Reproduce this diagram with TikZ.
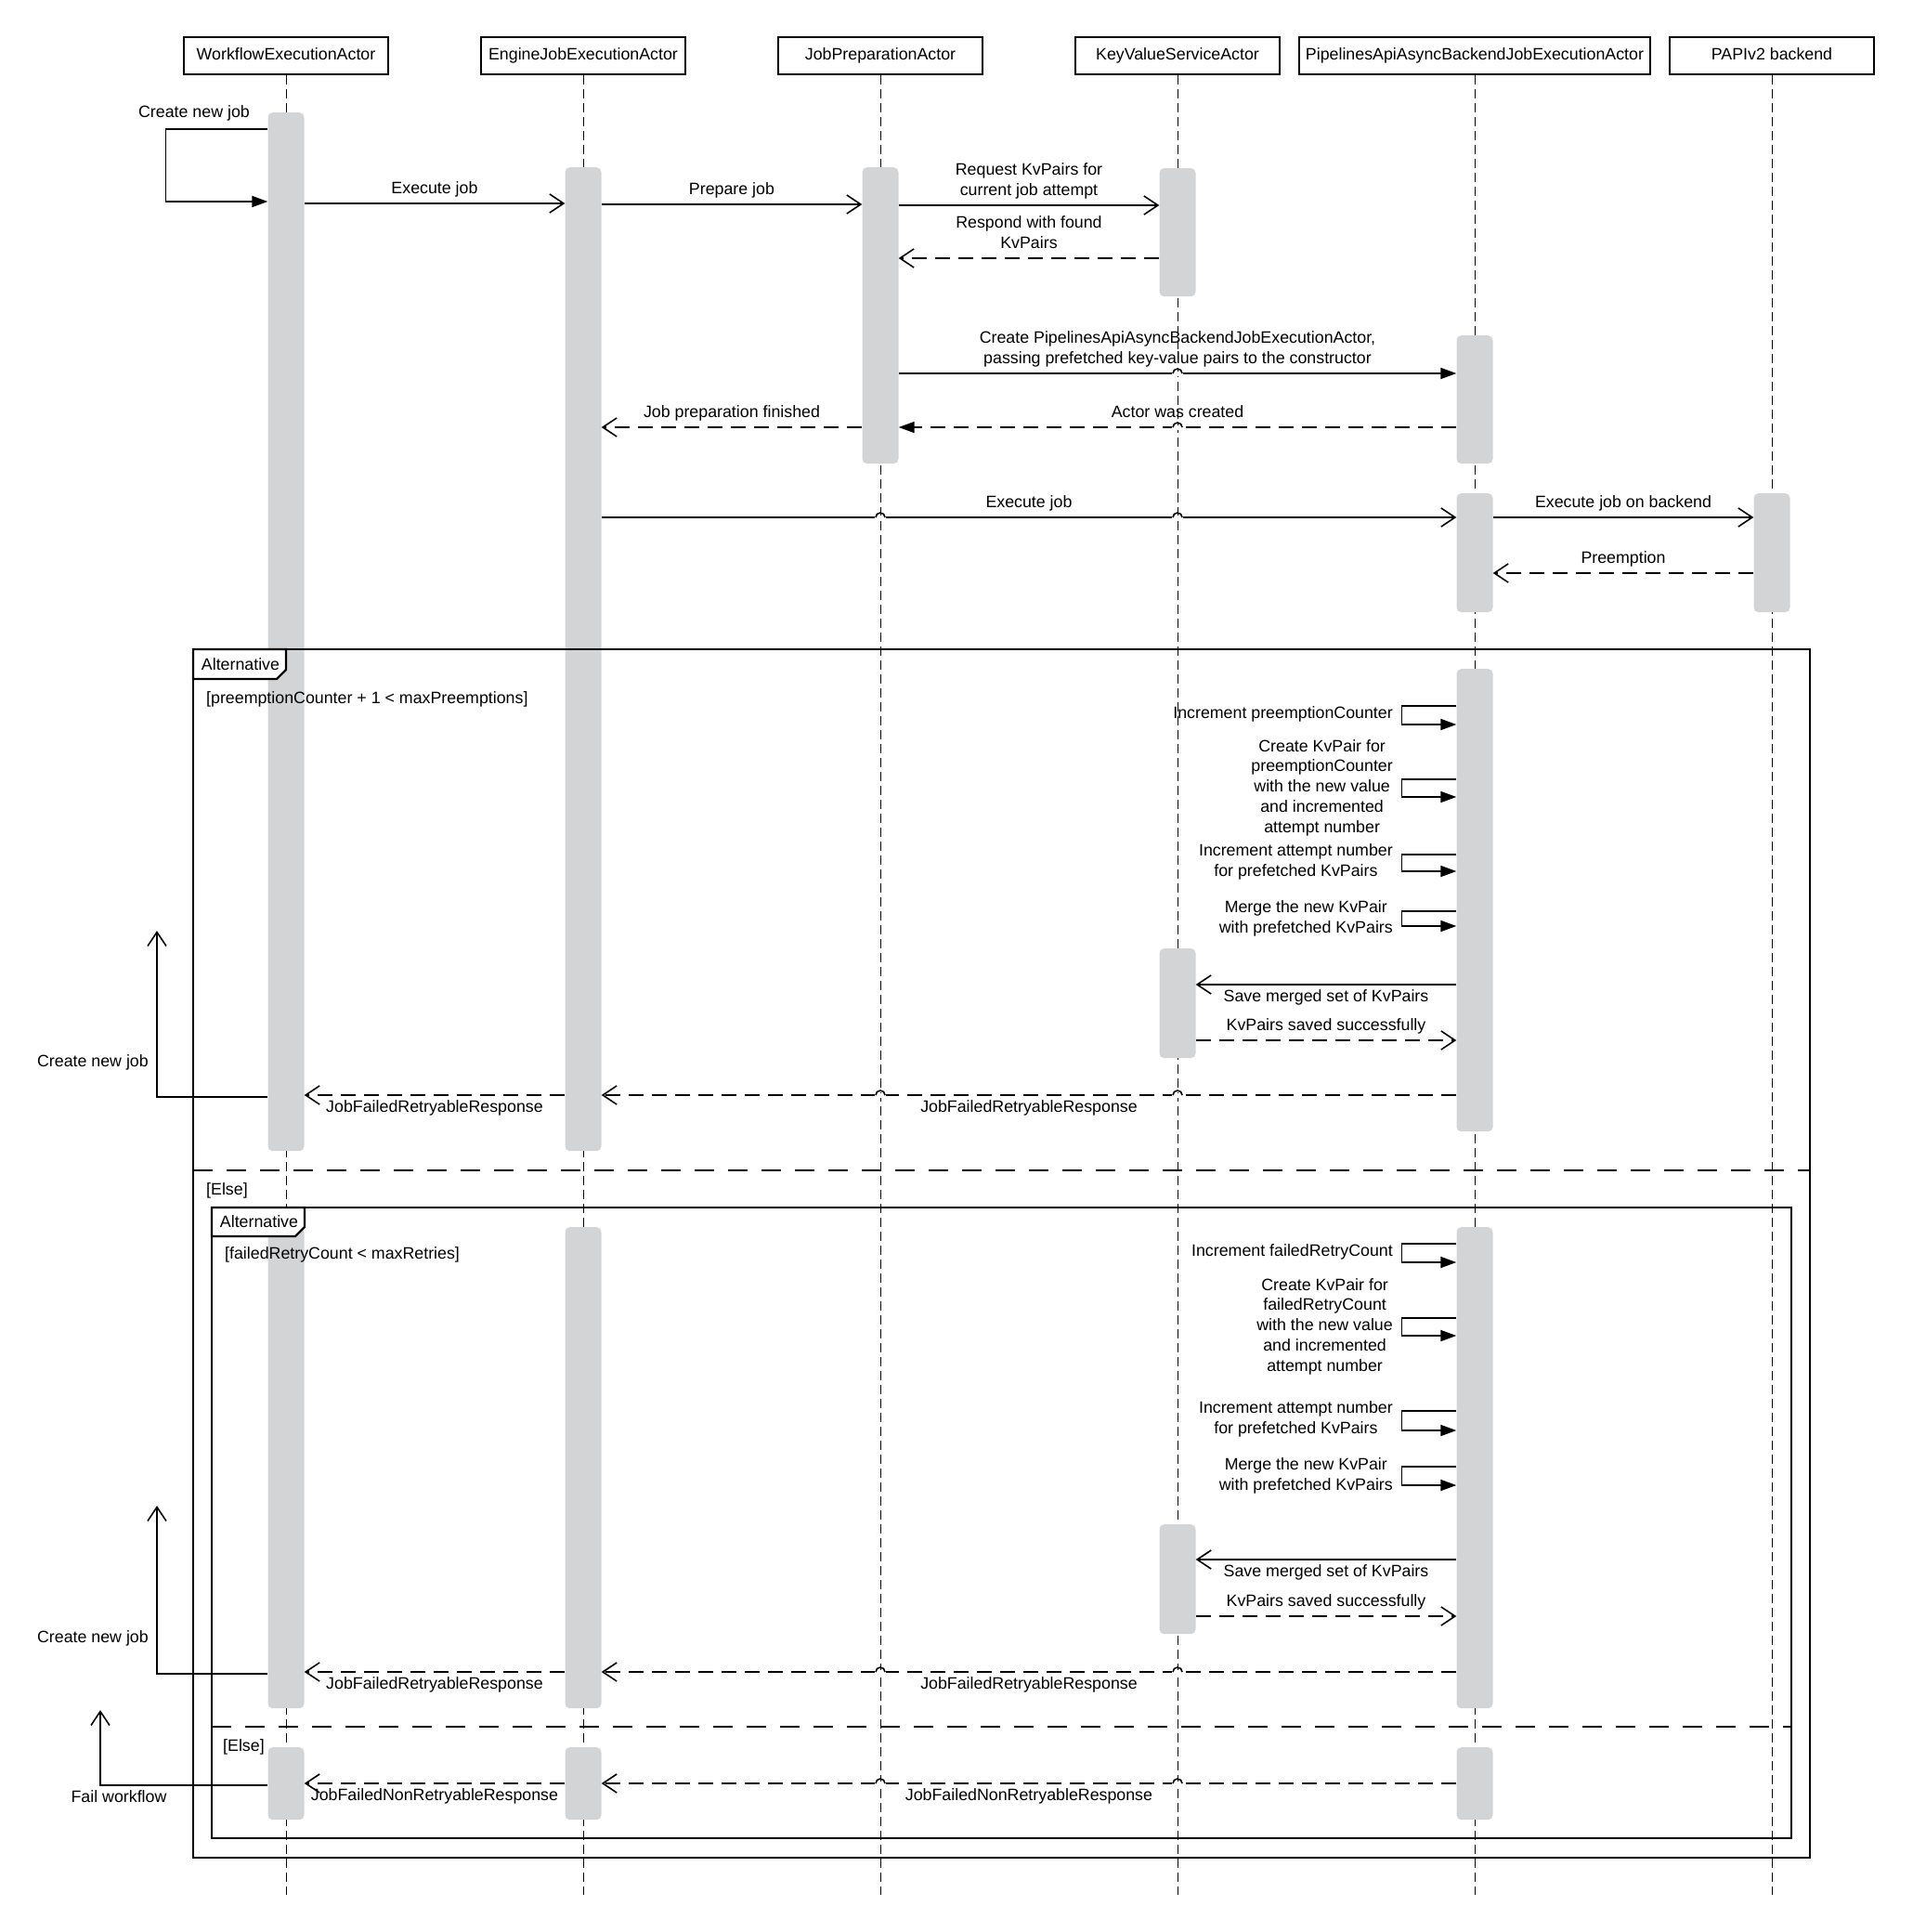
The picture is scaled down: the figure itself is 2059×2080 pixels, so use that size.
\documentclass[tikz,border=0pt]{standalone}
\usepackage{fontspec}
\setmainfont{Liberation Sans}
\usetikzlibrary{positioning,arrows.meta,calc}

\definecolor{barfill}{HTML}{D3D4D6}

% little bump where a message crosses a lifeline
\newcommand{\linehop}[2]{%
  \fill[white] ($(#1 |- 0,#2)+(-6,-2.5)$) rectangle ($(#1 |- 0,#2)+(6,2.5)$);
  \draw[line width=1.6pt] ($(#1 |- 0,#2)+(-5,0)$) arc[start angle=180,end angle=0,radius=5pt];}
% message an actor sends to itself
\newcommand{\selfcall}[3]{%
  \draw[call] (#1.west |- 0,#2) -- ++(-59,0) |- (#1.west |- 0,#3);}

\begin{document}
\begin{tikzpicture}[x=1pt, y=-1pt, node distance=320pt, font=\fontsize{17.8pt}{21.7pt}\selectfont]
  % Define styles
  \tikzstyle{actor}=[rectangle, draw=black, line width=1.8pt, minimum width=220pt, minimum height=40pt, inner sep=0pt, text depth=4pt]
  \tikzstyle{lifeline}=[line width=1pt, dash pattern=on 10pt off 5pt]
  \tikzstyle{actbar}=[rectangle, fill=barfill, rounded corners=5pt, minimum width=39pt, inner sep=0pt, anchor=north]
  \tikzstyle{msg}=[line width=1.6pt, -{Straight Barb[length=15pt,width=20pt]}]
  \tikzstyle{call}=[line width=1.6pt, -{Triangle[length=17pt,width=12pt]}]
  \tikzstyle{reply}=[msg, dash pattern=on 16pt off 9pt]
  \tikzstyle{replyf}=[call, dash pattern=on 16pt off 9pt]
  \tikzstyle{lbl}=[inner sep=0pt, text depth=4pt, align=center]
  \tikzstyle{note}=[inner sep=0pt, align=center]
  \tikzstyle{frame}=[line width=2.2pt]
  \tikzstyle{elseline}=[line width=2.2pt, dash pattern=on 21pt off 15pt]

  \useasboundingbox (0,0) rectangle (2059,2080);

  % Actors
  \node[actor] (wea) at (308,60) {WorkflowExecutionActor};
  \node[actor, right of=wea] (ejea) {EngineJobExecutionActor};
  \node[actor, right of=ejea] (jpa) {JobPreparationActor};
  \node[actor, right of=jpa] (kvsa) {KeyValueServiceActor};
  \node[actor, right of=kvsa, minimum width=378pt] (papi) {PipelinesApiAsyncBackendJobExecutionActor};
  \node[actor, right of=papi] (papib) {PAPIv2 backend};

  \foreach \a in {wea,ejea,jpa,kvsa,papi,papib}
    \draw[lifeline] (\a.south) -- (\a |- 0,2040);

  % Activations
  \node[actbar, minimum height=1118pt] (weaA) at (wea |- 0,121) {};
  \node[actbar, minimum height=518pt] (weaB) at (wea |- 0,1321) {};
  \node[actbar, minimum height=78pt] (weaC) at (wea |- 0,1881) {};
  \node[actbar, minimum height=1059pt] (ejeaA) at (ejea |- 0,180) {};
  \node[actbar, minimum height=518pt] (ejeaB) at (ejea |- 0,1321) {};
  \node[actbar, minimum height=78pt] (ejeaC) at (ejea |- 0,1881) {};
  \node[actbar, minimum height=319pt] (jpaA) at (jpa |- 0,180) {};
  \node[actbar, minimum height=138pt] (kvsaA) at (kvsa |- 0,181) {};
  \node[actbar, minimum height=118pt] (kvsaB) at (kvsa |- 0,1021) {};
  \node[actbar, minimum height=118pt] (kvsaC) at (kvsa |- 0,1641) {};
  \node[actbar, minimum height=138pt] (papiA) at (papi |- 0,361) {};
  \node[actbar, minimum height=128pt] (papiB) at (papi |- 0,531) {};
  \node[actbar, minimum height=498pt] (papiC) at (papi |- 0,720) {};
  \node[actbar, minimum height=518pt] (papiD) at (papi |- 0,1321) {};
  \node[actbar, minimum height=78pt] (papiE) at (papi |- 0,1881) {};
  \node[actbar, minimum height=128pt] (papibA) at (papib |- 0,531) {};

  % Frames
  \draw[frame] (208,699) rectangle (1949,2000);
  \draw[elseline] (208,1260) -- (1949,1260);
  \draw[frame] (228,1300) rectangle (1929,1979);
  \draw[elseline] (228,1859) -- (1929,1859);

  % Job start
  \draw[call] (weaA.west |- 0,139) -- ++(-110,0) -- ++(0,78) -- (weaA.west |- 0,217);
  \node[note] (lNew1) at (209,122) {Create new job};
  \draw[msg] (weaA.east |- 0,219) -- node[lbl, above=6pt] (lExec1) {Execute job} (ejeaA.west |- 0,219);
  \draw[msg] (ejeaA.east |- 0,220) -- node[lbl, above=6pt] (lPrep) {Prepare job} (jpaA.west |- 0,220);
  \draw[msg] (jpaA.east |- 0,221) -- node[lbl, above=6pt] (lReq) {Request KvPairs for\\current job attempt} (kvsaA.west |- 0,221);
  \draw[reply] (kvsaA.west |- 0,278) -- node[lbl, above=6pt] (lResp) {Respond with found\\KvPairs} (jpaA.east |- 0,278);
  \draw[call] (jpaA.east |- 0,402) -- node[lbl, above=6pt] (lMake) {Create PipelinesApiAsyncBackendJobExecutionActor,\\passing prefetched key-value pairs to the constructor} (papiA.west |- 0,402);
  \linehop{kvsa}{402}
  \draw[replyf] (papiA.west |- 0,460) -- node[lbl, above=6pt] (lMade) {Actor was created} (jpaA.east |- 0,460);
  \linehop{kvsa}{460}
  \draw[reply] (jpaA.west |- 0,460) -- node[lbl, above=6pt] (lPrepDone) {Job preparation finished} (ejeaA.east |- 0,460);
  \draw[msg] (ejeaA.east |- 0,557) -- node[lbl, above=6pt] (lExec2) {Execute job} (papiB.west |- 0,557);
  \linehop{jpa}{557}
  \linehop{kvsa}{557}
  \draw[msg] (papiB.east |- 0,557) -- node[lbl, above=6pt] (lExec3) {Execute job on backend} (papibA.west |- 0,557);
  \draw[reply] (papibA.west |- 0,617) -- node[lbl, above=6pt] (lPreempt) {Preemption} (papiB.east |- 0,617);

  % Preempted, retry allowed
  \selfcall{papiC}{760}{780}
  \node[note, anchor=east] (lIncP) at (1500,769) {Increment preemptionCounter};
  \selfcall{papiC}{839}{858}
  \node[note, anchor=east] (lPairP) at (1500,848) {Create KvPair for\\preemptionCounter\\with the new value\\and incremented\\attempt number};
  \selfcall{papiC}{920}{938}
  \node[note, anchor=east] (lIncA1) at (1500,928) {Increment attempt number\\for prefetched KvPairs};
  \selfcall{papiC}{981}{997}
  \node[note, anchor=east] (lMerge1) at (1500,989) {Merge the new KvPair\\with prefetched KvPairs};
  \draw[msg] (papiC.west |- 0,1060) -- node[lbl, below=5pt] (lSave1) {Save merged set of KvPairs} (kvsaB.east |- 0,1060);
  \draw[reply] (kvsaB.east |- 0,1120) -- node[lbl, above=6pt] (lSaved1) {KvPairs saved successfully} (papiC.west |- 0,1120);
  \draw[reply] (papiC.west |- 0,1179) -- node[lbl, below=5pt] (lRetryA) {JobFailedRetryableResponse} (ejeaA.east |- 0,1179);
  \linehop{jpa}{1179}
  \linehop{kvsa}{1179}
  \draw[reply] (ejeaA.west |- 0,1179) -- node[lbl, below=5pt] (lRetryB) {JobFailedRetryableResponse} (weaA.east |- 0,1179);
  \coordinate (retry1) at (169,1002);
  \draw[msg] (weaA.west |- 0,1181) -| (retry1);
  \node[note, anchor=east] (lNew2) at (160,1144) {Create new job};

  % Retries left
  \selfcall{papiD}{1339}{1359}
  \node[note, anchor=east] (lIncR) at (1500,1348) {Increment failedRetryCount};
  \selfcall{papiD}{1419}{1438}
  \node[note, anchor=east] (lPairR) at (1500,1428) {Create KvPair for\\failedRetryCount\\with the new value\\and incremented\\attempt number};
  \selfcall{papiD}{1519}{1540}
  \node[note, anchor=east] (lIncA2) at (1500,1528) {Increment attempt number\\for prefetched KvPairs};
  \selfcall{papiD}{1579}{1599}
  \node[note, anchor=east] (lMerge2) at (1500,1589) {Merge the new KvPair\\with prefetched KvPairs};
  \draw[msg] (papiD.west |- 0,1679) -- node[lbl, below=5pt] (lSave2) {Save merged set of KvPairs} (kvsaC.east |- 0,1679);
  \draw[reply] (kvsaC.east |- 0,1740) -- node[lbl, above=6pt] (lSaved2) {KvPairs saved successfully} (papiD.west |- 0,1740);
  \draw[reply] (papiD.west |- 0,1800) -- node[lbl, below=5pt] (lRetryC) {JobFailedRetryableResponse} (ejeaB.east |- 0,1800);
  \linehop{jpa}{1800}
  \linehop{kvsa}{1800}
  \draw[reply] (ejeaB.west |- 0,1800) -- node[lbl, below=5pt] (lRetryD) {JobFailedRetryableResponse} (weaB.east |- 0,1800);
  \coordinate (retry2) at (169,1621);
  \draw[msg] (weaB.west |- 0,1802) -| (retry2);
  \node[note, anchor=east] (lNew3) at (160,1764) {Create new job};

  % No retries left
  \draw[reply] (papiE.west |- 0,1920) -- node[lbl, below=5pt] (lNoRetryA) {JobFailedNonRetryableResponse} (ejeaC.east |- 0,1920);
  \linehop{jpa}{1920}
  \linehop{kvsa}{1920}
  \draw[reply] (ejeaC.west |- 0,1920) -- node[lbl, below=5pt] (lNoRetryB) {JobFailedNonRetryableResponse} (weaC.east |- 0,1920);
  \coordinate (failwf) at (108,1841);
  \draw[msg] (weaC.west |- 0,1922) -| (failwf);
  \node[note] (lFail) at (128,1934) {Fail workflow};

  % Frame labels and guards
  \draw[frame, fill=white] (208,699) -- (308,699) -- (308,721) -- (298,731) -- (208,731) -- cycle;
  \node[note] (altOuter) at (259,715) {Alternative};
  \node[note, anchor=west] (guardP) at (222,753) {[preemptionCounter + 1 < maxPreemptions]};
  \node[note, anchor=west] (elseOuter) at (222,1282) {[Else]};
  \draw[frame, fill=white] (228,1300) -- (328,1300) -- (328,1321) -- (318,1331) -- (228,1331) -- cycle;
  \node[note] (altInner) at (279,1315) {Alternative};
  \node[note, anchor=west] (guardR) at (242,1351) {[failedRetryCount < maxRetries]};
  \node[note, anchor=west] (elseInner) at (240,1881) {[Else]};
\end{tikzpicture}
\end{document}
